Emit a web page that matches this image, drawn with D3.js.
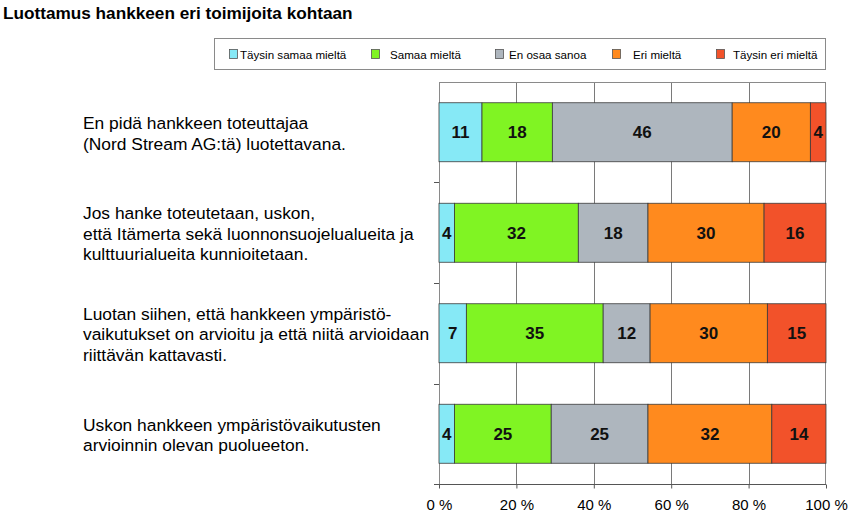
<!DOCTYPE html>
<html><head><meta charset="utf-8">
<script src="https://cdn.jsdelivr.net/npm/d3@7"></script>
<style>html,body{margin:0;padding:0;background:#fff;}svg{display:block;font-family:"Liberation Sans",Arial,sans-serif;}</style>
</head><body>
<script>
const title = "Luottamus hankkeen eri toimijoita kohtaan";
const categories = [
  ["En pidä hankkeen toteuttajaa", "(Nord Stream AG:tä) luotettavana."],
  ["Jos hanke toteutetaan, uskon,", "että Itämerta sekä luonnonsuojelualueita ja", "kulttuurialueita kunnioitetaan."],
  ["Luotan siihen, että hankkeen ympäristö-", "vaikutukset on arvioitu ja että niitä arvioidaan", "riittävän kattavasti."],
  ["Uskon hankkeen ympäristövaikutusten", "arvioinnin olevan puolueeton."]
];
const seriesNames = ["Täysin samaa mieltä", "Samaa mieltä", "En osaa sanoa", "Eri mieltä", "Täysin eri mieltä"];
const seriesColors = ["#86E9F6", "#80F423", "#AEB6BE", "#FF8A1E", "#F2522A"];
const taysinSamaa = [11, 4, 7, 4];
const samaa = [18, 32, 35, 25];
const enOsaa = [46, 18, 12, 25];
const eri = [20, 30, 30, 32];
const taysinEri = [4, 16, 15, 14];
const tickValues = [0, 0.2, 0.4, 0.6, 0.8, 1];
const tickLabels = ["0 %", "20 %", "40 %", "60 %", "80 %", "100 %"];

const W = 849, H = 519;
const svg = d3.select("body").append("svg").attr("width", W).attr("height", H);

const rows = categories.map((c, i) => ({
  idx: i,
  s0: taysinSamaa[i], s1: samaa[i], s2: enOsaa[i], s3: eri[i], s4: taysinEri[i]
}));
const keys = ["s0", "s1", "s2", "s3", "s4"];
const stacked = d3.stack().keys(keys).offset(d3.stackOffsetExpand)(rows);

const plot = {l: 439, r: 826, t: 82, b: 484};
const x = d3.scaleLinear().domain([0, 1]).range([plot.l, plot.r]);
const y = d3.scaleBand().domain(d3.range(categories.length)).range([plot.t, plot.b]).paddingInner(0.413).paddingOuter(0.2065);

// title
svg.append("text").attr("x", 3).attr("y", 19).attr("font-size", 17.2).attr("font-weight", "bold")
  .attr("fill", "#000").text(title);

// legend
const lg = svg.append("g");
lg.append("rect").attr("x", 214.5).attr("y", 38.5).attr("width", 611).attr("height", 31)
  .attr("fill", "#fff").attr("stroke", "#8a8a8a").attr("stroke-width", 1);
const legX = [229, 371, 495, 612, 716];
const legTX = [240, 390, 509, 633, 733];
seriesNames.forEach((n, i) => {
  lg.append("rect").attr("x", legX[i] + 0.5).attr("y", 49.5).attr("width", 8).attr("height", 9)
    .attr("fill", seriesColors[i]).attr("stroke", "#555").attr("stroke-width", 0.8);
  lg.append("text").attr("x", legTX[i])
    .attr("y", 58.5).attr("font-size", 11.6).attr("fill", "#000").text(n);
});

// gridlines
const g = svg.append("g");
g.selectAll("line.grid").data(tickValues.slice(1, -1)).join("line")
  .attr("x1", d => Math.round(x(d)) + 0.5).attr("x2", d => Math.round(x(d)) + 0.5)
  .attr("y1", plot.t).attr("y2", plot.b).attr("stroke", "#7a7a7a").attr("stroke-width", 1);
// frame
g.append("rect").attr("x", plot.l + 0.5).attr("y", plot.t + 0.5).attr("width", plot.r - plot.l - 1)
  .attr("height", plot.b - plot.t).attr("fill", "none").attr("stroke", "#8a8a8a").attr("stroke-width", 1);

// y ticks at band boundaries
const boundaries = d3.range(1, categories.length).map(i => y(i) - y.step() * y.paddingInner() / 2);
g.selectAll("line.yt").data(boundaries.concat([plot.b])).join("line")
  .attr("x1", plot.l - 5).attr("x2", plot.l).attr("y1", d => Math.round(d) + 0.5).attr("y2", d => Math.round(d) + 0.5)
  .attr("stroke", "#555");

// x axis
const xAxis = d3.axisBottom(x).tickValues(tickValues).tickFormat((d, i) => tickLabels[i]).tickSize(4).tickSizeOuter(0);
const ax = svg.append("g").attr("transform", `translate(0,${plot.b + 0.5})`).call(xAxis);
ax.select(".domain").attr("stroke", "#555").attr("d", `M${plot.l - 5},0H${plot.r}`);
ax.selectAll(".tick line").attr("stroke", "#555");
ax.selectAll(".tick text").attr("font-size", 15).attr("font-family", '"Liberation Sans",Arial,sans-serif')
  .attr("fill", "#000").attr("y", 11).attr("dy", "0.95em");

// bars
const bars = svg.append("g");
stacked.forEach((layer, si) => {
  bars.selectAll(null).data(layer).join("rect")
    .attr("x", d => x(d[0])).attr("y", (d, i) => y(i))
    .attr("width", d => x(d[1]) - x(d[0])).attr("height", y.bandwidth())
    .attr("fill", seriesColors[si]).attr("stroke", "#3a3a3a").attr("stroke-width", 0.8);
});
stacked.forEach((layer, si) => {
  bars.selectAll(null).data(layer).join("text")
    .attr("x", d => (x(d[0]) + x(d[1])) / 2).attr("y", (d, i) => y(i) + y.bandwidth() / 2)
    .attr("dy", "0.36em").attr("text-anchor", "middle").attr("font-size", 17).attr("font-weight", "bold")
    .attr("fill", "#111").text(d => d.data[keys[si]]);
});

// category labels
const cl = svg.append("g");
categories.forEach((lines, i) => {
  const cy = y(i) + y.bandwidth() / 2 + 1;
  const lh = 20.5;
  const t = cl.append("text").attr("font-size", 17.4).attr("fill", "#000");
  lines.forEach((ln, j) => {
    t.append("tspan").attr("x", 83).attr("y", cy + (j - (lines.length - 1) / 2) * lh).attr("dy", "0.35em").text(ln);
  });
});
</script>
</body></html>
